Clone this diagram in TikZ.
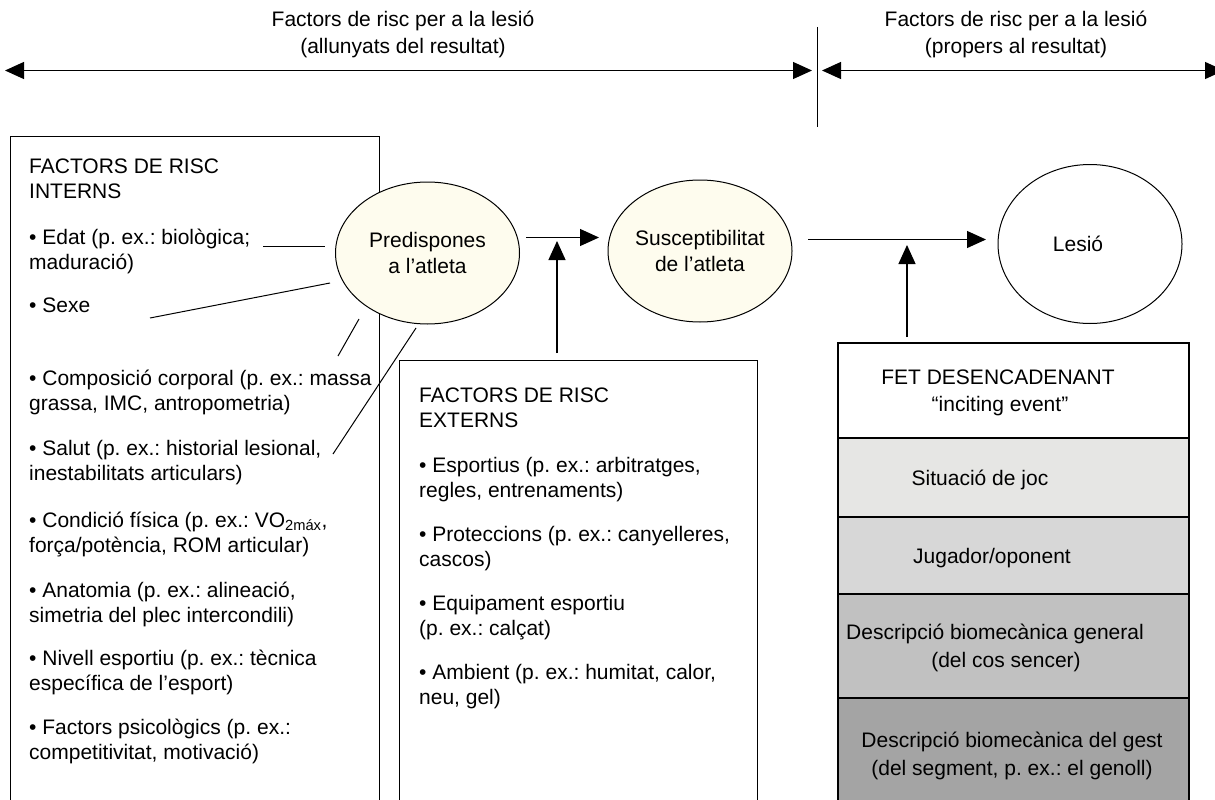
\documentclass[tikz,border=0pt]{standalone}
\usepackage{fontspec}
\setmainfont{Liberation Sans}
\usetikzlibrary{arrows.meta,shapes.geometric}
\definecolor{cream}{RGB}{254,252,238}
\definecolor{gA}{RGB}{230,230,228}
\definecolor{gB}{RGB}{215,215,215}
\definecolor{gC}{RGB}{193,193,193}
\definecolor{gD}{RGB}{164,164,164}
\frenchspacing
\begin{document}
\begin{tikzpicture}[x=1pt,y=-1pt,
  txt/.style={anchor=base west, inner sep=0pt, font=\fontsize{21}{25}\selectfont},
  ctxt/.style={anchor=base, inner sep=0pt, font=\fontsize{21}{25}\selectfont},
  arr/.style={line width=1.2pt, -{Triangle[length=19pt,width=17pt]}},
  dbl/.style={line width=1.2pt, {Triangle[length=19pt,width=17pt]}-{Triangle[length=19pt,width=17pt]}},
  ln/.style={line width=1pt},
  framebox/.style={draw, line width=1.3pt, anchor=north west, inner sep=0pt},
  rowbox/.style={draw, line width=2pt, anchor=north west, inner sep=0pt, minimum width=351pt},
  oval/.style={ellipse, draw, line width=1pt, minimum width=184pt, minimum height=142pt, inner sep=0pt, align=center, font=\fontsize{21}{26}\selectfont},
]
\useasboundingbox (0,0) rectangle (1215,800);
\clip (0,0) rectangle (1215,800);

% top labels
\node[ctxt] (tla) at (403,27) {Factors de risc per a la lesió};
\node[ctxt] (tlb) at (403,54) {(allunyats del resultat)};
\node[ctxt] (tra) at (1016,27) {Factors de risc per a la lesió};
\node[ctxt] (trb) at (1016,54) {(propers al resultat)};

% top arrows
\coordinate (aL) at (5,70.5);
\coordinate (aM) at (812,70.5);
\coordinate (bL) at (822,70.5);
\coordinate (bR) at (1224,70.5);
\coordinate (vT) at (817,27);
\coordinate (vB) at (817,127);
\draw[dbl] (aL) -- (aM);
\draw[dbl] (bL) -- (bR);
\draw[line width=1pt] (vT) -- (vB);

% boxes
\node[framebox, minimum width=369pt, minimum height=680pt] (intbox) at (10,136) {};
\node[framebox, minimum width=358pt, minimum height=460pt] (extbox) at (399,360) {};

\node[rowbox, fill=white, minimum height=95pt] (r1) at (837,342) {};
\node[rowbox, fill=gA, minimum height=79pt] (r2) at (837,437) {};
\node[rowbox, fill=gB, minimum height=77pt] (r3) at (837,516) {};
\node[rowbox, fill=gC, minimum height=104pt] (r4) at (837,593) {};
\node[rowbox, fill=gD, minimum height=120pt] (r5) at (837,697) {};

% internal factors text
\node[txt] (i0) at (29,173) {FACTORS DE RISC};
\node[txt] (i0b) at (29,198) {INTERNS};
\node[txt] (i1) at (29,244) {• Edat (p. ex.: biològica;};
\node[txt] (i1b) at (29,269) {maduració)};
\node[txt] (i2) at (29,312) {• Sexe};
\node[txt] (i3) at (29,385) {• Composició corporal (p. ex.: massa};
\node[txt] (i3b) at (29,410) {grassa, IMC, antropometria)};
\node[txt] (i4) at (29,455) {• Salut (p. ex.: historial lesional,};
\node[txt] (i4b) at (29,480) {inestabilitats articulars)};
\node[txt] (i5) at (29,527) {• Condició física (p. ex.: VO\textsubscript{2máx},};
\node[txt] (i5b) at (29,552) {força/potència, ROM articular)};
\node[txt] (i6) at (29,597) {• Anatomia (p. ex.: alineació,};
\node[txt] (i6b) at (29,622) {simetria del plec intercondili)};
\node[txt] (i7) at (29,665) {• Nivell esportiu (p. ex.: tècnica};
\node[txt] (i7b) at (29,690) {específica de l’esport)};
\node[txt] (i8) at (29,734) {• Factors psicològics (p. ex.:};
\node[txt] (i8b) at (29,759) {competitivitat, motivació)};

% external factors text
\node[txt] (e0) at (419,402) {FACTORS DE RISC};
\node[txt] (e0b) at (419,427) {EXTERNS};
\node[txt] (e1) at (419,472) {• Esportius (p. ex.: arbitratges,};
\node[txt] (e1b) at (419,497) {regles, entrenaments)};
\node[txt] (e2) at (419,541) {• Proteccions (p. ex.: canyelleres,};
\node[txt] (e2b) at (419,566) {cascos)};
\node[txt] (e3) at (419,610) {• Equipament esportiu};
\node[txt] (e3b) at (419,635) {(p. ex.: calçat)};
\node[txt] (e4) at (419,679) {• Ambient (p. ex.: humitat, calor,};
\node[txt] (e4b) at (419,704) {neu, gel)};

% inciting event text
\node[ctxt] (f0) at (998,384) {FET DESENCADENANT};
\node[ctxt] (f0b) at (1000,411) {“inciting event”};
\node[ctxt] (f1) at (980,485) {Situació de joc};
\node[ctxt] (f2) at (992,563) {Jugador/oponent};
\node[ctxt] (f3) at (995,639) {Descripció biomecànica general};
\node[ctxt] (f3b) at (1006,667) {(del cos sencer)};
\node[ctxt] (f4) at (1012,747) {Descripció biomecànica del gest};
\node[ctxt] (f4b) at (1012,775) {(del segment, p. ex.: el genoll)};

% ellipses
\node[oval, fill=cream] (pred) at (427.5,253) {Predispones\\a l’atleta};
\node[oval, fill=cream] (sus) at (700,251) {Susceptibilitat\\de l’atleta};
\node[oval, fill=white, minimum height=159pt] (les) at (1090,244) {Lesió\hspace*{24pt}};

% lines from internal factors
\coordinate (l1a) at (263,246); \coordinate (l1b) at (325,246);
\coordinate (l2a) at (150,318); \coordinate (l2b) at (330,283);
\coordinate (l3a) at (338,356); \coordinate (l3b) at (359,319);
\coordinate (l4a) at (333,454); \coordinate (l4b) at (416,328);
\draw[ln] (l1a) -- (l1b);
\draw[ln] (l2a) -- (l2b);
\draw[ln] (l3a) -- (l3b);
\draw[ln] (l4a) -- (l4b);

% arrows
\coordinate (p1) at (526,237.5); \coordinate (p2) at (599,237.5);
\coordinate (x1) at (557,353); \coordinate (x2) at (557,241);
\coordinate (s1) at (808,239.5); \coordinate (s2) at (986,239.5);
\coordinate (q1) at (907,337); \coordinate (q2) at (907,245);
\draw[arr] (p1) -- (p2);
\draw[arr] (x1) -- (x2);
\draw[arr] (s1) -- (s2);
\draw[arr] (q1) -- (q2);
\end{tikzpicture}
\end{document}
